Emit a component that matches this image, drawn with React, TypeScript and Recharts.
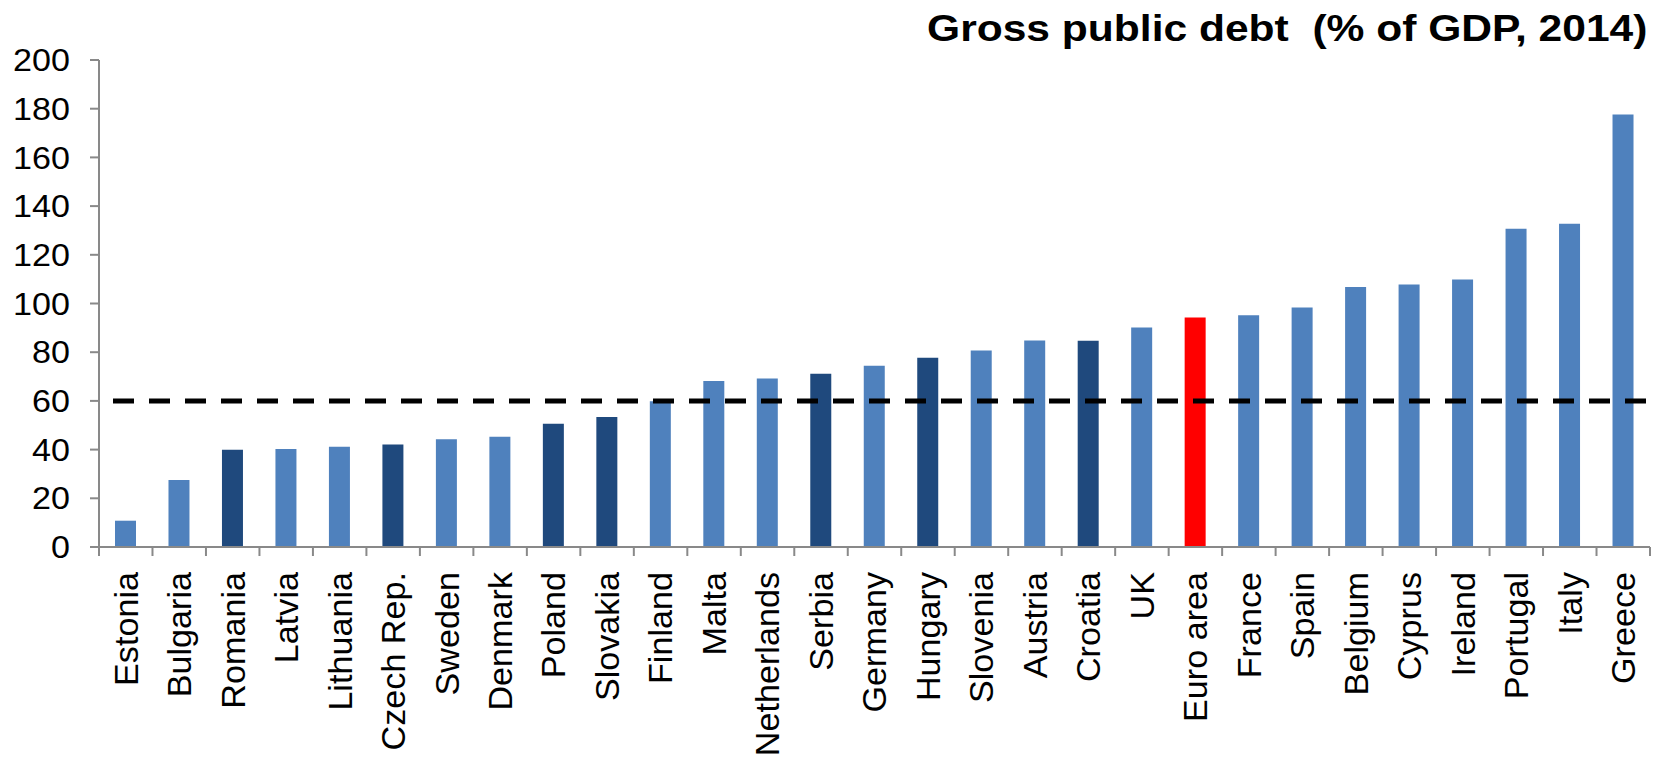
import { BarChart, Bar, XAxis, YAxis, Cell, ReferenceLine } from "recharts";

const countries = [
  "Estonia", "Bulgaria", "Romania", "Latvia", "Lithuania", "Czech Rep.",
  "Sweden", "Denmark", "Poland", "Slovakia", "Finland", "Malta",
  "Netherlands", "Serbia", "Germany", "Hungary", "Slovenia", "Austria",
  "Croatia", "UK", "Euro area", "France", "Spain", "Belgium", "Cyprus",
  "Ireland", "Portugal", "Italy", "Greece",
];

// gross public debt, % of GDP, 2014
const debt = [
  10.8, 27.5, 39.9, 40.2, 41.2, 42.1, 44.3, 45.3, 50.6, 53.4, 59.9, 68.2,
  69.2, 71.1, 74.4, 77.7, 80.7, 84.8, 84.7, 90.1, 94.2, 95.2, 98.4, 106.8,
  107.8, 109.9, 130.7, 132.8, 177.6,
];

const darkGroup = ["Romania", "Czech Rep.", "Poland", "Slovakia", "Serbia", "Hungary", "Croatia"];
const aggregate = "Euro area";

const yTicks = [0, 20, 40, 60, 80, 100, 120, 140, 160, 180, 200];
const threshold = 60;
const title = "Gross public debt  (% of GDP, 2014)";

const W = 1659;
const H = 760;
const PLOT_LEFT = 99;
const PLOT_RIGHT = 1650;
const PLOT_TOP = 60;
const PLOT_BOTTOM = 547;
const AXIS_GRAY = "#898989";
const FONT = "'Liberation Sans', Arial, sans-serif";

const data = countries.map((name, i) => ({ name, value: debt[i] }));

function colorFor(name: string): string {
  if (name === aggregate) return "#FF0000";
  if (darkGroup.includes(name)) return "#1F497D";
  return "#4F81BD";
}

// label plus a tick mark on the left edge of each category (Excel style)
function CountryTick(props: any) {
  const { x, y, payload, index } = props;
  const half = (PLOT_RIGHT - PLOT_LEFT) / countries.length / 2;
  return (
    <g>
      <line x1={x - half} x2={x - half} y1={y} y2={y + 9} stroke={AXIS_GRAY} strokeWidth={2} />
      {index === countries.length - 1 && (
        <line x1={x + half} x2={x + half} y1={y} y2={y + 9} stroke={AXIS_GRAY} strokeWidth={2} />
      )}
      <text
        transform={`translate(${x},${y + 25}) rotate(-90) scale(1.035,1)`}
        textAnchor="end"
        dy="0.36em"
        fontSize={33}
        fontFamily={FONT}
        fill="#000"
      >
        {payload.value}
      </text>
    </g>
  );
}

// the source renders its digits a little wide
function ValueTick(props: any) {
  const { x, y, payload } = props;
  return (
    <text
      transform={`translate(${x},${y}) scale(1.1,1)`}
      textAnchor="end"
      dy="0.36em"
      fontSize={31}
      fontFamily={FONT}
      fill="#000"
    >
      {payload.value}
    </text>
  );
}

export default function App() {
  return (
    <div style={{ position: "absolute", left: 0, top: 0, width: W, height: H, background: "#fff" }}>
      <div
        style={{
          position: "absolute",
          right: 12,
          top: 10,
          fontFamily: FONT,
          fontWeight: "bold",
          fontSize: 37,
          lineHeight: "37px",
          whiteSpace: "pre",
          color: "#000",
          transform: "scaleX(1.15)",
          transformOrigin: "right center",
        }}
      >
        {title}
      </div>
      <BarChart
        width={W}
        height={H}
        data={data}
        margin={{ top: PLOT_TOP, right: W - PLOT_RIGHT, left: 0, bottom: 0 }}
        barSize={21}
      >
        <XAxis
          dataKey="name"
          interval={0}
          height={H - PLOT_BOTTOM}
          tickLine={false}
          tickSize={0}
          tickMargin={0}
          axisLine={{ stroke: AXIS_GRAY, strokeWidth: 2 }}
          tick={<CountryTick />}
        />
        <YAxis
          width={PLOT_LEFT}
          domain={[0, 200]}
          ticks={yTicks}
          interval={0}
          tickSize={9}
          tickMargin={20}
          axisLine={{ stroke: AXIS_GRAY, strokeWidth: 2 }}
          tickLine={{ stroke: AXIS_GRAY, strokeWidth: 2 }}
          tick={<ValueTick />}
        />
        <Bar dataKey="value" isAnimationActive={false}>
          {data.map((d) => (
            <Cell key={d.name} fill={colorFor(d.name)} />
          ))}
        </Bar>
        <ReferenceLine
          y={threshold}
          stroke="#000"
          strokeWidth={5}
          strokeDasharray="21 15"
          strokeDashoffset={22}
        />
      </BarChart>
    </div>
  );
}
